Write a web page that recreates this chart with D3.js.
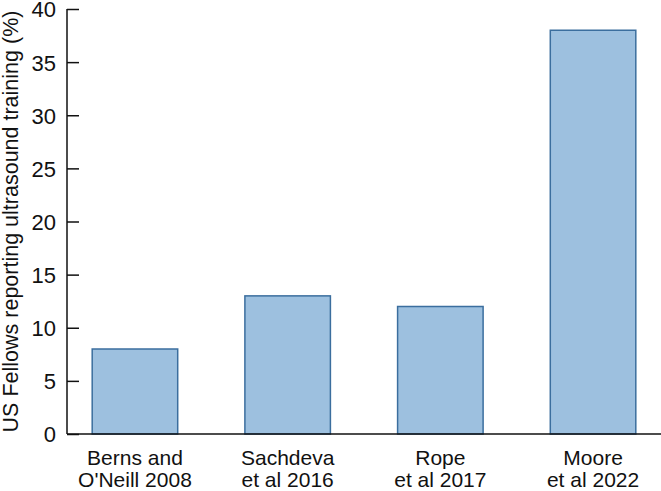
<!DOCTYPE html>
<html lang="en">
<head>
<meta charset="UTF-8">
<style>
  body { margin: 0; background: #fff; }
  text { font-family: "Liberation Sans", Arial, sans-serif; fill: #111; }
</style>
</head>
<body>
<script src="https://d3js.org/d3.v7.min.js"></script>
<script>
// data
var studies = ["Berns and|O'Neill 2008", "Sachdeva|et al 2016", "Rope|et al 2017", "Moore|et al 2022"];
var percents = [8, 13, 12, 38];
var yTicks = [0, 5, 10, 15, 20, 25, 30, 35, 40];

var width = 661, height = 491;
var mLeft = 67, mRight = 661, mTop = 9, mBottom = 434;

var svg = d3.select("body").append("svg")
    .attr("width", width)
    .attr("height", height);

var x = d3.scaleBand()
    .domain(studies)
    .range([mLeft, mRight])
    .paddingInner(0.44)
    .paddingOuter(0.165);

var y = d3.scaleLinear()
    .domain([0, 40])
    .range([mBottom, mTop]);

// bars
svg.selectAll("rect.bar")
    .data(percents)
    .enter().append("rect")
    .attr("class", "bar")
    .attr("x", function(d, i) { return x(studies[i]); })
    .attr("y", function(d) { return y(d); })
    .attr("width", x.bandwidth())
    .attr("height", function(d) { return y(0) - y(d); })
    .attr("fill", "#9dc0df")
    .attr("stroke", "#3b6e9e")
    .attr("stroke-width", 1.5);

// y axis, ticks pointing inward
var yAxis = svg.append("g")
    .attr("transform", "translate(" + mLeft + ",0)")
    .call(d3.axisRight(y).tickValues(yTicks).tickSize(12).tickFormat(d3.format("d")));
yAxis.select(".domain").attr("stroke", "#111").attr("stroke-width", 1.5).attr("d", "M0," + mTop + "V" + mBottom);
yAxis.selectAll(".tick line").attr("stroke", "#111").attr("stroke-width", 1.5);
yAxis.selectAll(".tick text")
    .attr("x", -11)
    .attr("dy", "0.36em")
    .attr("text-anchor", "end")
    .style("font-size", "22px");

// x axis line
svg.append("line")
    .attr("x1", mLeft).attr("x2", mRight)
    .attr("y1", mBottom).attr("y2", mBottom)
    .attr("stroke", "#111").attr("stroke-width", 1.5);

// category labels on two lines
var labels = svg.selectAll("text.cat")
    .data(studies)
    .enter().append("text")
    .attr("class", "cat")
    .attr("text-anchor", "middle")
    .style("font-size", "21px")
    .attr("transform", function(d) { return "translate(" + (x(d) + x.bandwidth() / 2) + "," + (mBottom + 31) + ")"; });
labels.selectAll("tspan")
    .data(function(d) { return d.split("|"); })
    .enter().append("tspan")
    .attr("x", 0)
    .attr("dy", function(d, i) { return i ? 22 : 0; })
    .text(function(d) { return d; });

// y title
svg.append("text")
    .attr("transform", "translate(18," + ((mTop + mBottom) / 2) + ") rotate(-90)")
    .attr("text-anchor", "middle")
    .style("font-size", "21.5px")
    .text("US Fellows reporting ultrasound training (%)");
</script>
</body>
</html>
